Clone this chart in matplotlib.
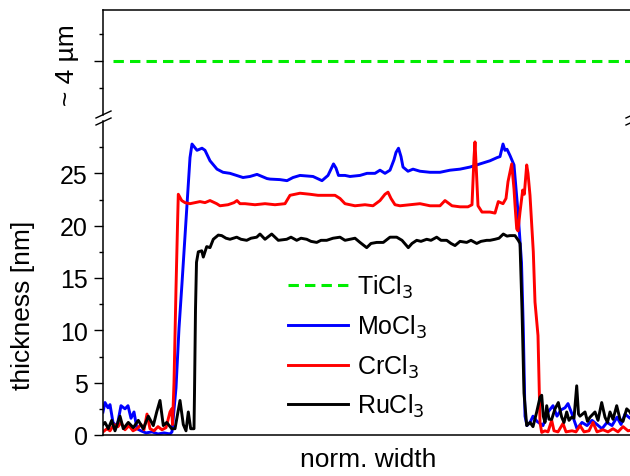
import numpy as np
import matplotlib
matplotlib.use("Agg")
import matplotlib.pyplot as plt
from matplotlib.lines import Line2D

plt.rcParams['font.family'] = ['Liberation Sans', 'DejaVu Sans']

# position along the profile (arb. units) and thickness in nm
mo_x = [0, 2, 5, 7, 10, 14, 18, 22, 25, 28, 31, 34, 38, 43, 49, 55, 61, 67, 69, 73, 76, 79, 82, 85, 87, 89,
        94, 99, 102, 107, 114, 120, 127, 140, 147, 154, 164, 167, 177, 184, 190, 197, 210, 219, 225, 228,
        230.5, 233, 235.5, 242, 247, 257, 264, 272, 277, 282, 287, 291, 293, 295.5, 298, 300, 305, 310,
        317, 327, 337, 347, 357, 367, 377, 387, 394, 397, 400, 402, 404, 407, 411, 415, 418.5, 420.3, 422,
        424, 427, 430, 434, 440, 445, 450, 454, 458, 462, 465, 469, 474, 479, 484, 489, 494, 499, 504, 509,
        514, 518, 522, 527, 530]
mo_y = [2.2, 3.1, 2.6, 2.9, 1.2, 0.8, 2.8, 2.5, 2.8, 1.6, 2.2, 0.6, 0.4, 0.2, 0.3, 0.1, 0.2, 0.1, 0.3, 4.5,
        10.2, 14.5, 19.0, 23.5, 26.5, 27.8, 27.2, 27.4, 27.2, 26.2, 25.4, 25.1, 25.0, 24.6, 24.7, 24.9, 24.5,
        24.45, 24.4, 24.3, 24.6, 24.8, 24.7, 24.3, 24.8, 25.4, 25.9, 25.5, 24.8, 24.8, 24.7, 24.8, 25.0, 25.0,
        25.3, 25.0, 25.3, 26.3, 27.0, 27.4, 26.6, 25.6, 25.2, 25.4, 25.2, 25.1, 25.1, 25.3, 25.4, 25.6, 25.9,
        26.2, 26.5, 26.6, 27.8, 27.2, 27.3, 26.7, 25.8, 21.3, 16.5, 10.1, 1.8, 0.9, 1.2, 1.8, 1.3, 0.9, 2.2,
        2.8, 1.8, 2.4, 2.6, 3.0, 2.0, 0.6, 1.2, 0.9, 1.4, 1.0, 0.6, 1.2, 0.9, 1.7, 1.0, 2.0, 1.6, 1.8]

cr_x = [0, 4, 7, 11, 15, 18, 22, 26, 30, 34, 38, 41, 44, 47, 51, 55, 59, 63, 67, 68.7, 69.5, 71, 73, 74.5,
        75.3, 78.7, 82, 87, 92, 97, 102, 107, 113.7, 117, 125, 131, 134, 137, 142, 152, 162, 172, 182, 187,
        192, 197, 207, 215, 222, 232, 237, 242, 252, 262, 270, 277, 282, 285, 288, 292, 297, 307, 317, 327,
        337, 342, 349, 357, 365, 369, 371, 372, 373.5, 375, 379, 387, 392, 395.3, 400, 403, 405, 408.7, 411,
        412, 413.7, 415, 417, 419.7, 421.3, 423.7, 425, 427, 430.3, 432, 435, 437, 438.7, 442, 445, 448.7,
        451, 455, 460, 463, 469, 473, 477, 481, 486, 490, 494, 500, 505, 510, 515, 520, 525, 530]
cr_y = [0.3, 0.6, 0.4, 1.0, 0.8, 1.2, 0.5, 0.9, 0.4, 0.6, 1.0, 0.5, 2.0, 0.6, 0.4, 0.8, 0.5, 0.7, 2.2, 2.5,
        1.0, 5.0, 14.0, 20.0, 23.0, 22.4, 22.2, 22.1, 22.2, 22.3, 22.2, 22.4, 22.1, 21.9, 22.0, 22.2, 22.4,
        22.1, 22.1, 22.0, 22.1, 22.0, 22.1, 22.9, 23.0, 23.1, 23.0, 22.9, 22.9, 22.9, 22.6, 22.1, 21.9, 22.0,
        21.9, 22.4, 23.0, 23.2, 22.6, 22.0, 21.9, 22.0, 22.1, 21.9, 21.9, 22.4, 21.9, 21.8, 21.8, 22.0, 26.5,
        28.0, 25.0, 21.9, 21.3, 21.3, 21.2, 22.3, 22.1, 22.6, 24.2, 25.9, 23.5, 22.0, 19.7, 19.5, 21.3, 23.4,
        23.0, 25.8, 25.0, 22.9, 17.5, 12.7, 9.5, 1.2, 0.25, 0.4, 0.3, 1.4, 0.4, 0.3, 1.1, 0.3, 0.4, 0.3, 0.9,
        0.3, 0.4, 1.2, 0.3, 0.5, 0.3, 0.6, 0.3, 0.8, 0.4, 0.5]

ru_x = [0, 2, 5.3, 8.7, 12, 17, 20.3, 25.3, 30.3, 35.3, 40.3, 45.3, 50.3, 53.7, 57, 60.3, 63.7, 68.7, 72, 77,
        80.3, 83, 85.3, 87.7, 91, 91.5, 92.5, 93.5, 95.3, 98.7, 100.3, 103.7, 107, 110.3, 115.3, 118.7, 123,
        127, 133.7, 138, 143.7, 148, 153.7, 157, 162, 168.7, 175.3, 183.7, 188, 193.7, 198, 203.7, 208,
        213.7, 218, 223.7, 230, 237, 242, 247, 252, 257, 263.7, 268, 273.7, 280.3, 287, 293.7, 299, 305.3,
        309, 313.7, 318, 323.7, 328, 333.7, 338, 343.7, 348, 352, 357, 363.7, 368, 373.7, 378, 383.7, 387,
        392, 396, 400.3, 404, 407, 412, 415.3, 417, 419, 421, 423.7, 427, 430, 433.7, 437, 438.7, 440.3, 442,
        443.7, 446, 448.7, 452, 455.3, 458.7, 461, 463.7, 466, 468.7, 471, 473.7, 475.5, 477, 482, 484.5,
        487, 492, 495, 498.7, 502, 504.5, 507, 510, 513.7, 517, 520, 523.7, 527, 530]
ru_y = [1.0, 1.2, 0.6, 1.4, 0.4, 1.8, 0.6, 1.2, 0.7, 1.4, 0.6, 1.8, 0.9, 2.2, 3.3, 0.9, 1.2, 0.6, 0.6, 3.3,
        1.0, 0.4, 2.2, 0.6, 0.6, 4.0, 12.0, 16.5, 17.5, 17.6, 17.0, 18.0, 17.9, 18.7, 19.1, 19.05, 18.8, 18.7,
        18.9, 18.7, 18.6, 18.8, 18.9, 19.2, 18.7, 19.2, 18.6, 18.7, 18.9, 18.6, 18.8, 18.7, 18.5, 18.4, 18.6,
        18.6, 18.8, 18.9, 18.6, 18.7, 18.8, 18.4, 17.9, 18.3, 18.4, 18.4, 18.9, 18.9, 18.6, 17.9, 18.3, 18.6,
        18.5, 18.7, 18.6, 18.9, 18.6, 18.6, 18.3, 18.1, 18.5, 18.4, 18.6, 18.3, 18.5, 18.6, 18.6, 18.7, 18.8,
        19.2, 19.0, 19.05, 19.05, 18.6, 18.3, 12.0, 4.0, 0.9, 1.2, 0.8, 2.2, 3.6, 3.8, 1.8, 1.2, 2.8, 1.5,
        1.5, 2.5, 3.1, 1.7, 1.2, 2.2, 1.4, 1.7, 1.6, 4.7, 2.0, 1.8, 2.2, 1.3, 1.7, 2.2, 1.4, 3.1, 1.7, 1.2,
        2.2, 1.5, 2.8, 1.5, 1.3, 2.5, 2.2, 1.6]

# TiCl3 flake is ~4 um thick, shown on the upper broken part
ti_x = [10, 530]
ti_y = [4, 4]

labels = ['TiCl$_3$', 'MoCl$_3$', 'CrCl$_3$', 'RuCl$_3$']
colors = ['#00ee00', '#0000ff', '#ff0000', '#000000']

W, H = 630, 477
fig = plt.figure(figsize=(W / 100, H / 100), dpi=100)

def fx(px):
    return px / W

def fy(py):
    return 1 - py / H

left = fx(103)
width = 530 / W
ax = fig.add_axes([left, fy(436), width, (436 - 122) / H])
ax_top = fig.add_axes([left, fy(116), width, (116 - 11) / H])

lw = 2.1
dash = (3.4, 2.0)
ax.plot(mo_x, mo_y, color=colors[1], lw=lw)
ax.plot(cr_x, cr_y, color=colors[2], lw=lw)
ax.plot(ru_x, ru_y, color=colors[3], lw=lw)
ax_top.plot(ti_x, ti_y, color=colors[0], lw=2.2, dashes=dash)

ax.set_xlim(0, 530)
ax_top.set_xlim(0, 530)
ax.set_ylim(0, 30.0)
ax_top.set_ylim(3.0, 4.944)

for a in (ax, ax_top):
    for s in a.spines.values():
        s.set_linewidth(1.1)
    a.spines['right'].set_visible(False)
    a.set_xticks([])
    a.tick_params(axis='y', direction='out', length=6.5, width=1.0, labelsize=18, pad=4.5)
    a.tick_params(axis='y', which='minor', direction='out', length=3.2, width=1.0)
ax.spines['top'].set_visible(False)
ax_top.spines['bottom'].set_visible(False)

ax.set_yticks([0, 5, 10, 15, 20, 25])
ax.set_yticks(np.arange(2.5, 30, 5), minor=True)
ax_top.set_yticks([4])
ax_top.set_yticklabels([])
ax_top.set_yticks([3.5, 4.5], minor=True)

ax.set_xlabel('norm. width', fontsize=19, labelpad=9)
ax.set_ylabel('thickness [nm]', fontsize=19)
ax.yaxis.set_label_coords(-0.128, 0.417)
ax_top.set_ylabel('~ 4 µm', fontsize=19)
ax_top.yaxis.set_label_coords(-0.045, 0.48)

# axis break marks
for xb in (103, 633):
    for dy in (0, 7):
        fig.add_artist(Line2D([fx(xb - 7), fx(xb + 8)], [fy(119 + dy), fy(112 + dy)],
                              color='black', lw=1.0, clip_on=False))

handles = [Line2D([], [], color=colors[0], lw=2.2, dashes=dash)]
handles += [Line2D([], [], color=c, lw=lw) for c in colors[1:]]
ax.legend(handles, labels, loc='upper left', bbox_to_anchor=((288 - 103) / 530, (436 - 274) / 314),
          frameon=False, fontsize=18, handlelength=2.4, handletextpad=0.35, labelspacing=0.5,
          borderpad=0, borderaxespad=0)

fig.savefig('out.png', dpi=100)
